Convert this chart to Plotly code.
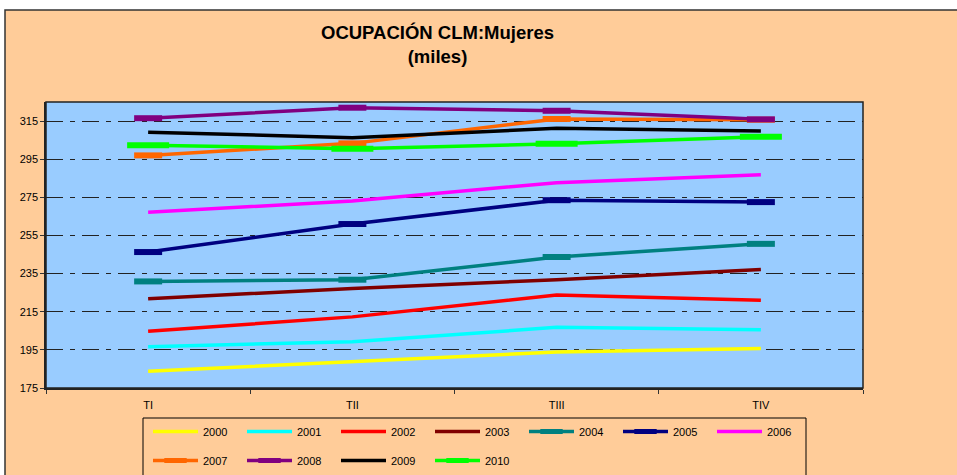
import plotly.graph_objects as go

categories = ["TI", "TII", "TIII", "TIV"]
years = ["2000", "2001", "2002", "2003", "2004", "2005", "2006", "2007", "2008", "2009", "2010"]
v2000 = [183.8, 189.0, 193.9, 195.7]
v2001 = [196.7, 199.3, 206.8, 205.6]
v2002 = [204.7, 212.3, 223.8, 221.0]
v2003 = [221.8, 227.2, 231.8, 237.2]
v2004 = [230.9, 231.8, 243.7, 250.6]
v2005 = [246.3, 261.0, 273.5, 272.5]
v2006 = [267.2, 273.1, 282.7, 286.9]
v2007 = [297.0, 303.3, 316.1, 315.7]
v2008 = [316.5, 322.0, 320.4, 315.9]
v2009 = [309.2, 306.3, 311.2, 309.8]
v2010 = [302.3, 300.5, 303.1, 306.8]
values = [v2000, v2001, v2002, v2003, v2004, v2005, v2006, v2007, v2008, v2009, v2010]
colors = ["#FFFF00", "#00FFFF", "#FF0000", "#800000", "#008080", "#000080",
          "#FF00FF", "#FF6600", "#800080", "#000000", "#00FF00"]
marker_size = [0, 0, 0, 0, 20, 20, 0, 20, 20, 0, 30]

W, H = 957, 475
L, R, T, B = 46, 863, 102, 388
pw, ph = R - L, B - T

def px(x):
    return (x - L) / pw

def py(y):
    return (B - y) / ph

fig = go.Figure()
for i, (name, vals, col, ms) in enumerate(zip(years, values, colors, marker_size)):
    leg = "legend" if i < 7 else "legend2"
    if ms:
        fig.add_trace(go.Scatter(
            x=categories, y=vals, name=name, mode="lines+markers", legend=leg,
            line=dict(color=col, width=3.5),
            marker=dict(symbol="line-ew", size=ms, color=col,
                        line=dict(color=col, width=6)),
        ))
    else:
        fig.add_trace(go.Scatter(
            x=categories, y=vals, name=name, mode="lines", legend=leg,
            line=dict(color=col, width=3.5),
        ))

shapes = [
    dict(type="rect", xref="paper", yref="paper", layer="below",
         x0=px(5), x1=px(W + 10), y0=py(H + 10), y1=py(10),
         fillcolor="#FFCC99", line=dict(color="#333333", width=1.5)),
    dict(type="rect", xref="paper", yref="paper", layer="below",
         x0=0, x1=1, y0=0, y1=1,
         fillcolor="#99CCFF", line=dict(color="#222222", width=1.5)),
    dict(type="rect", xref="paper", yref="paper", layer="below",
         x0=px(143), x1=px(806), y0=py(H + 10), y1=py(418),
         fillcolor="#FFCC99", line=dict(color="black", width=1)),
]

legend_common = dict(
    orientation="h", xanchor="left", yanchor="top",
    bgcolor="rgba(0,0,0,0)", borderwidth=0,
    font=dict(size=11), entrywidth=34, itemwidth=45, traceorder="normal",
)

fig.update_layout(
    width=W, height=H,
    margin=dict(l=L, r=W - R, t=T, b=H - B, pad=0),
    paper_bgcolor="white",
    plot_bgcolor="#99CCFF",
    font=dict(family="Liberation Sans, Arial, sans-serif", size=11, color="black"),
    shapes=shapes,
    showlegend=True,
    legend=dict(legend_common, xref="paper", yref="paper", x=px(148), y=py(417)),
    legend2=dict(legend_common, xref="container", yref="container",
                 x=148 / W, y=1 - 446 / H),
    annotations=[dict(
        text="<b>OCUPACIÓN CLM:Mujeres</b><br><b>(miles)</b>",
        xref="paper", yref="paper", x=px(437), y=py(45),
        xanchor="center", yanchor="middle", showarrow=False,
        font=dict(size=18.5, family="Liberation Sans, Arial, sans-serif"),
    )],
)

fig.update_xaxes(
    type="category", range=[-0.5, 3.5], tickson="boundaries",
    ticks="outside", ticklen=4, tickcolor="#333333",
    showgrid=False, showline=True, linecolor="#222222", linewidth=1.5,
    ticklabelstandoff=6, zeroline=False,
)
fig.update_yaxes(
    range=[175, 325], tick0=175, dtick=20,
    ticks="outside", ticklen=4, tickcolor="#333333",
    showgrid=True, gridcolor="#222222", gridwidth=1, griddash="17px,7px,5px,7px",
    showline=True, linecolor="#222222", linewidth=1.5, zeroline=False,
)

fig.write_html("out.html", config={"displayModeBar": False},
               post_script="document.body.style.margin='0px';")
